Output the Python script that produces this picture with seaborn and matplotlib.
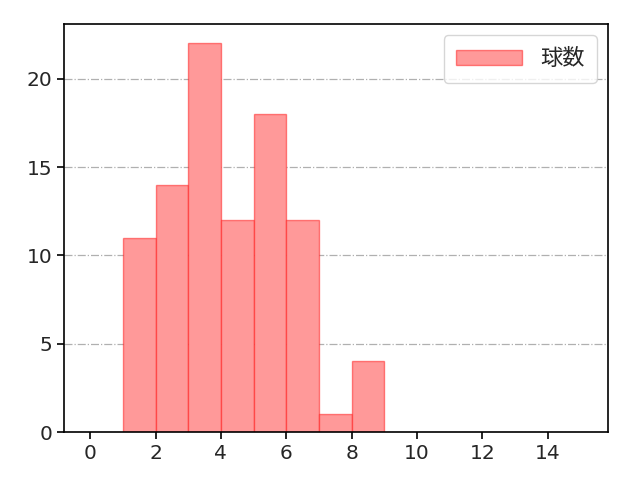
import matplotlib
matplotlib.use("Agg")
import matplotlib.pyplot as plt
import seaborn as sns
import numpy as np

sns.set_style("ticks")
plt.rcParams['font.family'] = ['DejaVu Sans', 'Noto Sans CJK JP']

bin_edges = [1, 2, 3, 4, 5, 6, 7, 8, 9]
counts = [11, 14, 22, 12, 18, 12, 1, 4]
label = "球数"

centers = [(a + b) / 2 for a, b in zip(bin_edges[:-1], bin_edges[1:])]

fig = plt.figure(figsize=(6.4, 4.8), dpi=100)
ax = fig.add_axes([0.1, 0.1, 0.85, 0.85])
sns.histplot(x=centers, weights=counts, bins=bin_edges, ax=ax,
             color=(1, 0.6, 0.6), alpha=1.0, edgecolor=(1, 0, 0, 0.45),
             linewidth=1.0, label=label)
ax.set_xlim(-0.8, 15.84)
ax.set_ylim(0, 23.1)
ax.set_xticks(range(0, 16, 2))
ax.set_yticks([0, 5, 10, 15, 20])
ax.yaxis.grid(True, linestyle='-.', color='#b0b0b0', linewidth=0.9)
ax.set_axisbelow(True)
ax.set_xlabel("")
ax.set_ylabel("")
ax.tick_params(labelsize=14.5, direction='out', length=5, width=1.2, color='black')
for s in ax.spines.values():
    s.set_linewidth(1.2)
    s.set_color('black')
ax.legend(loc='upper right', prop={'family': ['Noto Sans CJK JP'], 'size': 16},
          handlelength=3.0, borderpad=0.55)
fig.savefig("out.png", dpi=100)
